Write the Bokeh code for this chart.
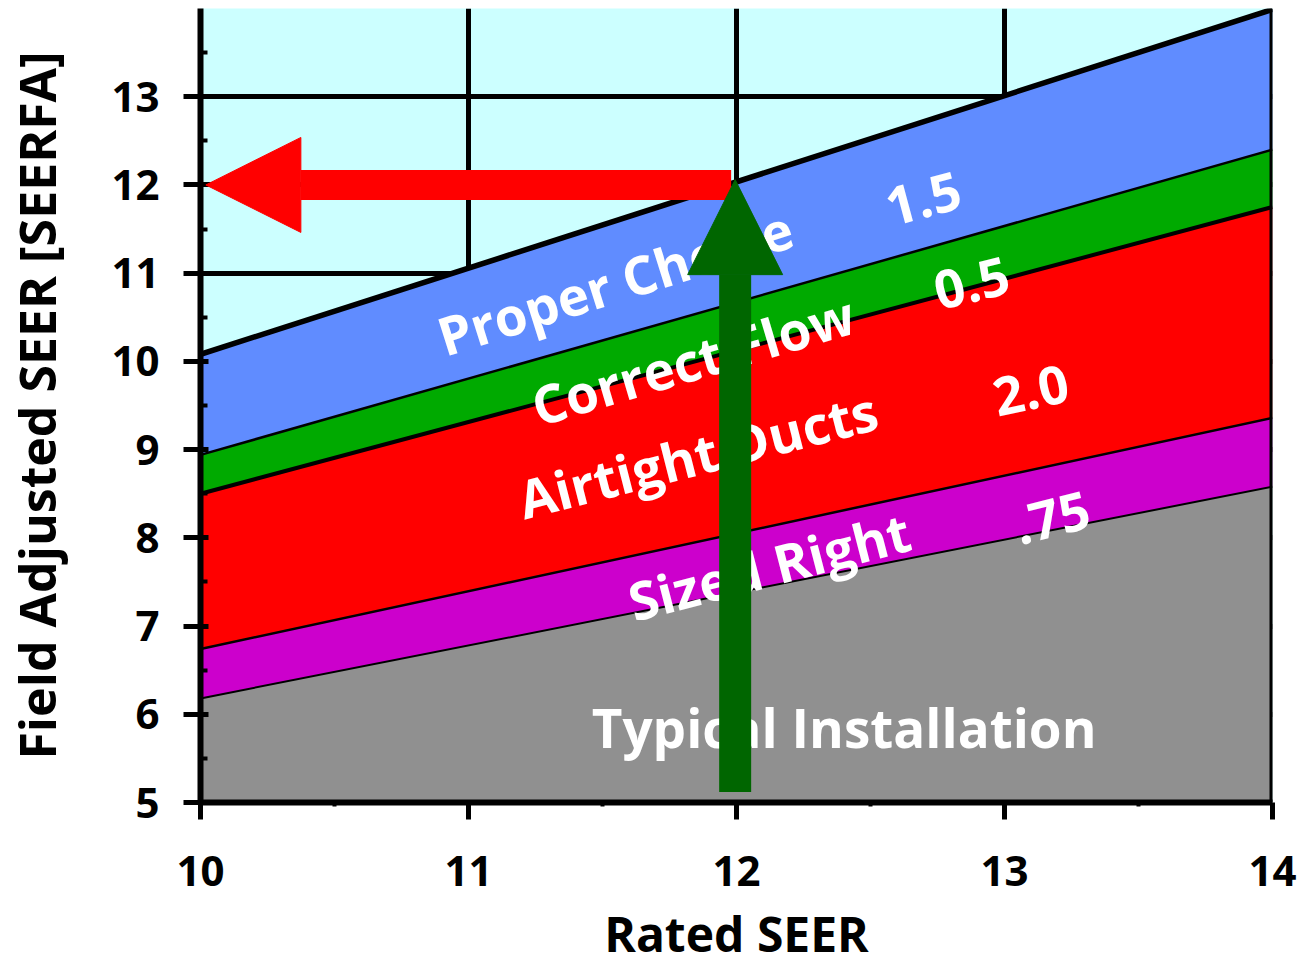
from bokeh.plotting import figure
from bokeh.models import Range1d, FixedTicker, Span, Arrow, NormalHead
from bokeh.core.properties import value
from bokeh.embed import file_html
from bokeh.resources import INLINE
import math

# ---- data ----
rated_seer = [10, 14]
floor_vals = [5.0, 5.0]
typical = [6.18, 8.58]          # Typical Installation (top of grey)
sized_right = [6.74, 9.36]      # + sized right (.75)
airtight_ducts = [8.50, 11.75]  # + airtight ducts (2.0)
correct_flow = [8.94, 12.40]    # + correct flow (0.5)
proper_choice = [10.08, 13.99]  # + proper choice (1.5)

x_ticks = [10, 11, 12, 13, 14]
x_minor = [10.5, 11.5, 12.5, 13.5]
y_ticks = [5, 6, 7, 8, 9, 10, 11, 12, 13]
y_minor = [5.5, 6.5, 7.5, 8.5, 9.5, 10.5, 11.5, 12.5, 13.5]

band_texts = ["Proper Choice", "1.5", "Correct Flow", "0.5",
              "Airtight Ducts", "2.0", "Sized Right", ".75",
              "Typical Installation"]

# example reading: rated 12 -> field 12
rated_example = 12
field_example = 12

FONT = "Open Sans"

p = figure(frame_width=1072, frame_height=794,
           x_range=Range1d(10, 14), y_range=Range1d(5, 14),
           output_backend="svg", toolbar_location=None,
           min_border_left=194, min_border_right=26,
           min_border_top=8, min_border_bottom=140)
p.background_fill_color = "#CCFFFF"
p.border_fill_color = "white"
p.outline_line_color = None

# bands
layers = [(floor_vals, typical, "#909090"),
          (typical, sized_right, "#CC00CC"),
          (sized_right, airtight_ducts, "#FF0000"),
          (airtight_ducts, correct_flow, "#00AA00"),
          (correct_flow, proper_choice, "#608CFF")]
for lo, hi, col in layers:
    p.varea(x=rated_seer, y1=lo, y2=hi, fill_color=col)

for ys, w in [(typical, 2), (sized_right, 2.5), (airtight_ducts, 4),
              (correct_flow, 2.5), (proper_choice, 5.5)]:
    p.line(rated_seer, ys, line_color="black", line_width=w)

# right edge line
p.add_layout(Span(location=14, dimension="height", line_color="black", line_width=6))

# axes
for ax, tk, mn in [(p.xaxis, x_ticks, x_minor), (p.yaxis, y_ticks, y_minor)]:
    ax.ticker = FixedTicker(ticks=tk, minor_ticks=mn)
    ax.axis_line_width = 6
    ax.axis_line_color = "black"
    ax.major_tick_line_width = 5
    ax.minor_tick_line_width = 4
    ax.major_tick_out = 17
    ax.major_label_text_font = FONT
    ax.major_label_text_font_style = "bold"
    ax.major_label_text_font_size = "42px"
    ax.major_label_text_color = "black"
    ax.axis_label_text_font = FONT
    ax.axis_label_text_font_style = "bold"
    ax.axis_label_text_font_size = "50px"
    ax.axis_label_text_color = "black"

p.xaxis.major_tick_in = 0
p.xaxis.minor_tick_in = 0
p.xaxis.minor_tick_out = 4
p.xaxis.major_label_standoff = 36
p.xaxis.axis_label = "Rated SEER"
p.xaxis.axis_label_text_font_size = "48px"
p.xaxis.axis_label_standoff = 12

p.yaxis.major_tick_in = 8
p.yaxis.minor_tick_in = 7
p.yaxis.minor_tick_out = 0
p.yaxis.major_label_standoff = 24
p.yaxis.axis_label = "Field Adjusted SEER [SEERFA]"
p.yaxis.axis_label_standoff = 37

# grid
for g, tk in [(p.xgrid, x_ticks), (p.ygrid, y_ticks)]:
    g.ticker = FixedTicker(ticks=tk)
    g.grid_line_color = "black"
    g.grid_line_width = 5

# band labels (placement: baseline-left anchor in data coords, angle deg)
label_x = [10.89, 12.56, 11.24, 12.74, 11.19, 12.96, 11.60, 13.04, 11.46]
label_y = [10.27, 11.74, 9.48, 10.79, 8.43, 9.59, 7.27, 8.13, 5.85]
label_deg = [17.5, 15, 16.5, 14, 14.3, 12, 14.5, 14, 0]
p.text(x=label_x, y=label_y, text=band_texts,
       angle=[math.radians(d) for d in label_deg],
       text_font=value(FONT), text_font_style="bold", text_font_size="53px",
       text_color="white", text_align="left", text_baseline="alphabetic")

# arrows
p.add_layout(Arrow(x_start=rated_example - 0.02, y_start=field_example,
                   x_end=10.02, y_end=field_example,
                   line_color="#FF0000", line_width=30,
                   end=NormalHead(size=95, fill_color="#FF0000", line_color="#FF0000")))
p.add_layout(Arrow(x_start=rated_example - 0.005, y_start=5.12,
                   x_end=rated_example - 0.005, y_end=field_example + 0.06,
                   line_color="#006600", line_width=32,
                   end=NormalHead(size=95, fill_color="#006600", line_color="#006600")))

open("out.html", "w").write(file_html(p, INLINE))
